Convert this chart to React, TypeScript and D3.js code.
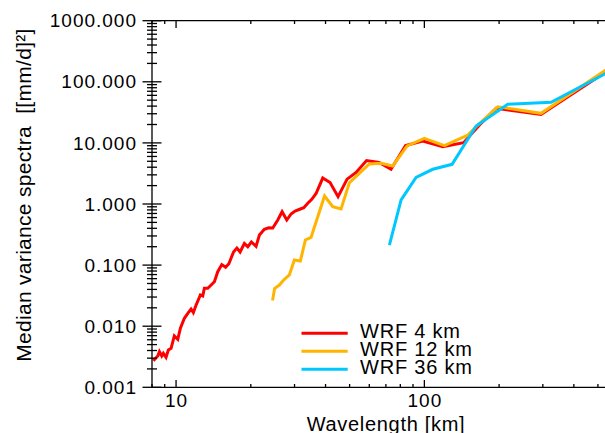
import React, { useEffect, useRef } from 'react';
import * as d3 from 'd3';

// wavelength [km] and median variance spectra [(mm/d)^2]
const wavelength4 = [8.1, 8.44, 8.57, 8.76, 8.89, 9.11, 9.31, 9.55, 9.84, 10.16, 10.41, 10.8, 11.15, 11.49, 11.74, 12.04, 12.53, 12.81, 13.0, 13.42, 13.84, 14.27, 14.72, 15.28, 15.83, 16.32, 17.04, 17.58, 18.11, 18.84, 19.45, 20.11, 21.0, 21.66, 22.68, 23.63, 24.52, 25.68, 26.73, 27.92, 29.05, 30.15, 31.67, 32.69, 33.92, 35.2, 36.63, 38.97, 41.71, 44.92, 48.84, 53.08, 58.5, 65.7, 73.4, 84.0, 98.5, 118.7, 143.9, 169.2, 194.5, 295, 648];
const spectra4 = [0.00271, 0.00325, 0.00383, 0.00325, 0.0036, 0.0031, 0.00408, 0.00435, 0.00692, 0.00611, 0.00925, 0.01347, 0.01626, 0.0191, 0.01663, 0.0222, 0.0324, 0.0312, 0.0417, 0.0417, 0.0472, 0.0535, 0.078, 0.102, 0.0924, 0.1054, 0.164, 0.1905, 0.164, 0.226, 0.2, 0.239, 0.203, 0.311, 0.385, 0.409, 0.405, 0.547, 0.748, 0.547, 0.686, 0.768, 0.828, 0.869, 1.027, 1.194, 1.485, 2.66, 2.25, 1.317, 2.55, 3.28, 5.15, 4.78, 3.71, 9.07, 10.74, 8.67, 10.07, 20.9, 36.8, 29.2, 239];

const wavelength12 = [24.47, 24.93, 26.06, 27.31, 28.6, 29.95, 31.67, 33.17, 34.98, 37.21, 39.63, 42.77, 46.18, 49.88, 54.71, 60.03, 66.94, 74.6, 85.2, 100, 120.4, 149.6, 164.1, 197.5, 295, 648];
const spectra12 = [0.0263, 0.0414, 0.0472, 0.0586, 0.0689, 0.121, 0.1166, 0.2575, 0.285, 0.619, 1.352, 0.903, 0.828, 2.23, 3.18, 4.52, 4.64, 4.19, 8.9, 11.89, 9.0, 13.46, 19.6, 39.1, 30.5, 257];

const wavelength36 = [72.3, 80.6, 92.6, 108.1, 129.3, 161.6, 216.7, 323.8, 648];
const spectra36 = [0.213, 1.163, 2.735, 3.7, 4.46, 18.9, 42.8, 46.2, 204];

const seriesNames = ['WRF 4 km', 'WRF 12 km', 'WRF 36 km'];
const seriesColors = ['#ff0000', '#ffb400', '#00c8ff'];

const yTickValues = [0.001, 0.01, 0.1, 1, 10, 100, 1000];
const yTickLabels = ['0.001', '0.010', '0.100', '1.000', '10.000', '100.000', '1000.000'];
const xTickValues = [10, 100, 1000];
const xTickLabels = ['10', '100', '1000'];

const W = 605;
const H = 433;
const FONT = '"Liberation Sans", Arial, Helvetica, sans-serif';

const App = () => {
  const svgRef = useRef<SVGSVGElement | null>(null);

  useEffect(() => {
    const svg = d3.select(svgRef.current);
    svg.selectAll('*').remove();

    const left = 152;
    const top = 20.7;
    const bottom = 387.3;
    const decade = 248.3;

    // x axis runs past the right edge of the picture (cropped)
    const x = d3.scaleLog().domain([8, 1000]).range([left, left + decade * Math.log10(1000 / 8)]);
    const y = d3.scaleLog().domain([0.001, 1000]).range([bottom, top]);

    const series = [
      { name: seriesNames[0], color: seriesColors[0], xs: wavelength4, ys: spectra4 },
      { name: seriesNames[1], color: seriesColors[1], xs: wavelength12, ys: spectra12 },
      { name: seriesNames[2], color: seriesColors[2], xs: wavelength36, ys: spectra36 },
    ];

    svg.append('defs').append('clipPath').attr('id', 'plot-clip')
      .append('rect')
      .attr('x', left).attr('y', top)
      .attr('width', W - left).attr('height', bottom - top);

    // lines
    const line = d3.line<[number, number]>()
      .x(d => x(d[0]))
      .y(d => y(d[1]));

    const lines = svg.append('g').attr('clip-path', 'url(#plot-clip)');
    series.forEach(s => {
      const pts = s.xs.map((v, i) => [v, s.ys[i]] as [number, number]);
      lines.append('path')
        .attr('d', line(pts))
        .attr('fill', 'none')
        .attr('stroke', s.color)
        .attr('stroke-width', 3)
        .attr('stroke-linejoin', 'miter');
    });

    // axes frame
    const axisG = svg.append('g').attr('stroke', '#000').attr('stroke-width', 1.3).attr('fill', 'none');
    axisG.append('line').attr('x1', left).attr('x2', left).attr('y1', top).attr('y2', bottom);
    axisG.append('line').attr('x1', left).attr('x2', W).attr('y1', top).attr('y2', top);
    axisG.append('line').attr('x1', left).attr('x2', W).attr('y1', bottom).attr('y2', bottom);

    // y ticks (drawn across the axis line)
    const yMinor: number[] = [];
    for (let k = -3; k < 3; k++) {
      for (let m = 2; m <= 9; m++) yMinor.push(m * Math.pow(10, k));
    }
    yMinor.forEach(v => {
      axisG.append('line')
        .attr('x1', left - 5).attr('x2', left + 5)
        .attr('y1', y(v)).attr('y2', y(v));
    });
    yTickValues.forEach(v => {
      axisG.append('line')
        .attr('x1', left - 9.5).attr('x2', left + 9.5)
        .attr('y1', y(v)).attr('y2', y(v));
    });

    // x ticks on top and bottom, pointing inward
    const xMinor: number[] = [];
    for (let k = 0; k < 3; k++) {
      for (let m = 2; m <= 9; m++) {
        const v = m * Math.pow(10, k);
        if (v >= 8 && x(v) <= W) xMinor.push(v);
      }
    }
    xMinor.forEach(v => {
      axisG.append('line').attr('x1', x(v)).attr('x2', x(v)).attr('y1', bottom).attr('y2', bottom - 3.3);
      axisG.append('line').attr('x1', x(v)).attr('x2', x(v)).attr('y1', top).attr('y2', top + 3.3);
    });
    xTickValues.filter(v => x(v) <= W).forEach(v => {
      axisG.append('line').attr('x1', x(v)).attr('x2', x(v)).attr('y1', bottom).attr('y2', bottom - 7.3);
      axisG.append('line').attr('x1', x(v)).attr('x2', x(v)).attr('y1', top).attr('y2', top + 7.3);
    });

    // tick labels
    const text = svg.append('g')
      .attr('font-family', FONT)
      .attr('fill', '#000');

    yTickValues.forEach((v, i) => {
      text.append('text')
        .attr('x', 137)
        .attr('y', y(v))
        .attr('dy', '0.35em')
        .attr('text-anchor', 'end')
        .attr('font-size', 19)
        .attr('letter-spacing', 1)
        .text(yTickLabels[i]);
    });

    xTickValues.forEach((v, i) => {
      if (x(v) > W) return;
      text.append('text')
        .attr('x', x(v) + 0.5)
        .attr('y', 407)
        .attr('text-anchor', 'middle')
        .attr('font-size', 19)
        .attr('letter-spacing', 1)
        .text(xTickLabels[i]);
    });

    // axis titles
    text.append('text')
      .attr('x', 386)
      .attr('y', 431)
      .attr('text-anchor', 'middle')
      .attr('font-size', 20)
      .attr('letter-spacing', 0.7)
      .text('Wavelength [km]');

    text.append('text')
      .attr('transform', 'translate(31,195) rotate(-90)')
      .attr('text-anchor', 'middle')
      .attr('font-size', 21)
      .attr('letter-spacing', 0.3)
      .attr('xml:space', 'preserve')
      .style('white-space', 'pre')
      .text('Median variance spectra  [[mm/d]²]');

    // legend
    const legend = svg.append('g');
    series.forEach((s, i) => {
      const ly = 333.3 + i * 18;
      legend.append('line')
        .attr('x1', 301.5).attr('x2', 347.7)
        .attr('y1', ly).attr('y2', ly)
        .attr('stroke', s.color)
        .attr('stroke-width', 3);
      legend.append('text')
        .attr('x', 360)
        .attr('y', ly + 4.4)
        .attr('font-family', FONT)
        .attr('font-size', 20)
        .attr('letter-spacing', 0.8)
        .text(s.name);
    });
  }, []);

  return (
    <svg
      ref={svgRef}
      width={W}
      height={H}
      style={{ position: 'absolute', left: 0, top: 0, background: '#fff' }}
    />
  );
};

export default App;
